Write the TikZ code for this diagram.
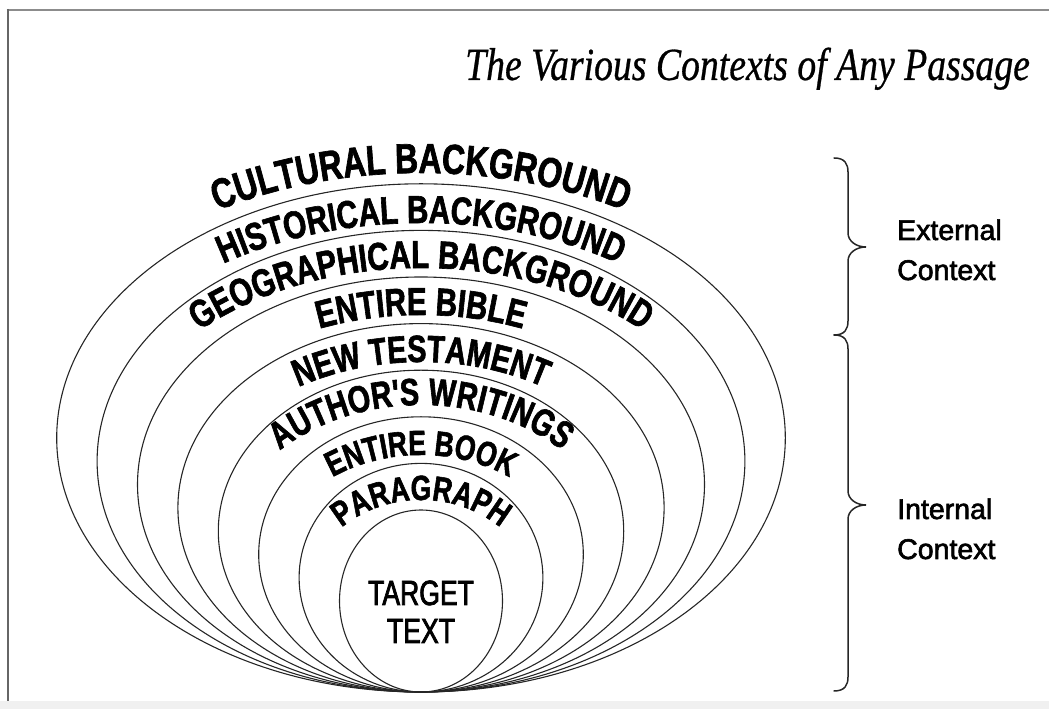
\documentclass[tikz,border=0pt]{standalone}
\usepackage{fontspec}
\setmainfont{Liberation Sans}
\newfontfamily\lblfont[FakeStretch=0.76,FakeBold=1.6]{Liberation Sans Bold}
\newfontfamily\tgtfont[FakeStretch=0.76,FakeBold=2.2]{Liberation Sans}
\newfontfamily\sidefont[FakeBold=2.2]{Liberation Sans}
\newfontfamily\ttlfont[FakeStretch=0.82,FakeBold=0.6]{Liberation Serif Italic}
\usetikzlibrary{decorations.text}
\begin{document}
\begin{tikzpicture}[x=1pt,y=1pt,
  ring/.style={draw=black!85, line width=1.1pt},
  bracepath/.style={draw=black!85, line width=1.5pt, line cap=round},
  sidetext/.style={anchor=base west, inner sep=0pt, font=\sidefont\fontsize{28.5}{28.5}\selectfont},
  tgt/.style={anchor=base, inner sep=0pt, font=\tgtfont\fontsize{35}{35}\selectfont},
  arclabel/.style={decorate, decoration={text along path, text align=center, text={#1}}}]
\useasboundingbox (0,0) rectangle (1049,709);
% frame
\fill[black!6] (0,0) rectangle (1049,8);
\draw[black!45, line width=2.5pt] (6.5,699) -- (1049,699);
\draw[black!60, line width=2pt] (7.5,700) -- (7.5,8);
% title
\node[anchor=base west, inner sep=0pt] (title) at (465,629)
  {\ttlfont\fontsize{46}{46}\selectfont The Various Contexts of Any Passage};
% nested ellipses, all touching at the bottom
\foreach \i in {1,...,8} {
  \pgfmathsetmacro\ry{91+23.3*(\i-1)}
  \pgfmathsetmacro\rx{81.5+40.4*(\i-1)}
  \draw[ring] (421,{17+\ry}) ellipse[x radius=\rx, y radius=\ry];
}
% curved labels
\path[arclabel={|\lblfont\fontsize{42}{42}\selectfont|CULTURAL BACKGROUND}]
  (16.3,258.6) arc[start angle=180, end angle=0, x radius=404.7, y radius=277.4];
\path[arclabel={|\lblfont\fontsize{39}{39}\selectfont|HISTORICAL BACKGROUND}]
  (56.7,231.9) arc[start angle=180, end angle=0, x radius=364.3, y radius=254.1];
\path[arclabel={|\lblfont\fontsize{39}{39}\selectfont|GEOGRAPHICAL BACKGROUND}]
  (97.1,210.2) arc[start angle=180, end angle=0, x radius=323.9, y radius=230.8];
\path[arclabel={|\lblfont\fontsize{39}{39}\selectfont|ENTIRE BIBLE}]
  (137.5,186.5) arc[start angle=180, end angle=0, x radius=283.5, y radius=207.5];
\path[arclabel={|\lblfont\fontsize{38}{38}\selectfont|NEW TESTAMENT}]
  (177.9,162.8) arc[start angle=180, end angle=0, x radius=243.1, y radius=184.2];
\path[arclabel={|\lblfont\fontsize{38}{38}\selectfont|AUTHOR'S WRITINGS}]
  (218.3,143.1) arc[start angle=180, end angle=0, x radius=202.7, y radius=160.9];
\path[arclabel={|\lblfont\fontsize{35}{35}\selectfont|ENTIRE BOOK}]
  (258.7,116.4) arc[start angle=180, end angle=0, x radius=162.3, y radius=137.6];
\path[arclabel={|\lblfont\fontsize{35}{35}\selectfont|PARAGRAPH}]
  (299.1,94.7) arc[start angle=180, end angle=0, x radius=121.9, y radius=114.3];
% target text
\node[tgt] (t1) at (421,104) {TARGET};
\node[tgt] (t2) at (421,66) {TEXT};
% braces
\draw[bracepath] (834,551) .. controls (845,551) and (848,545) .. (848,537)
  -- (848,476) .. controls (848,468) and (856,462) .. (866,462)
  .. controls (856,462) and (848,456) .. (848,448)
  -- (848,388) .. controls (848,380) and (845,374) .. (834,374);
\draw[bracepath] (834,374) .. controls (845,374) and (848,368) .. (848,360)
  -- (848,218) .. controls (848,210) and (856,204) .. (866,204)
  .. controls (856,204) and (848,198) .. (848,190)
  -- (848,32) .. controls (848,24) and (845,18) .. (834,18);
% side labels
\node[sidetext] (ext1) at (897,469) {External};
\node[sidetext] (ext2) at (897,429) {Context};
\node[sidetext] (int1) at (897,190) {Internal};
\node[sidetext] (int2) at (897,150) {Context};
\end{tikzpicture}
\end{document}
